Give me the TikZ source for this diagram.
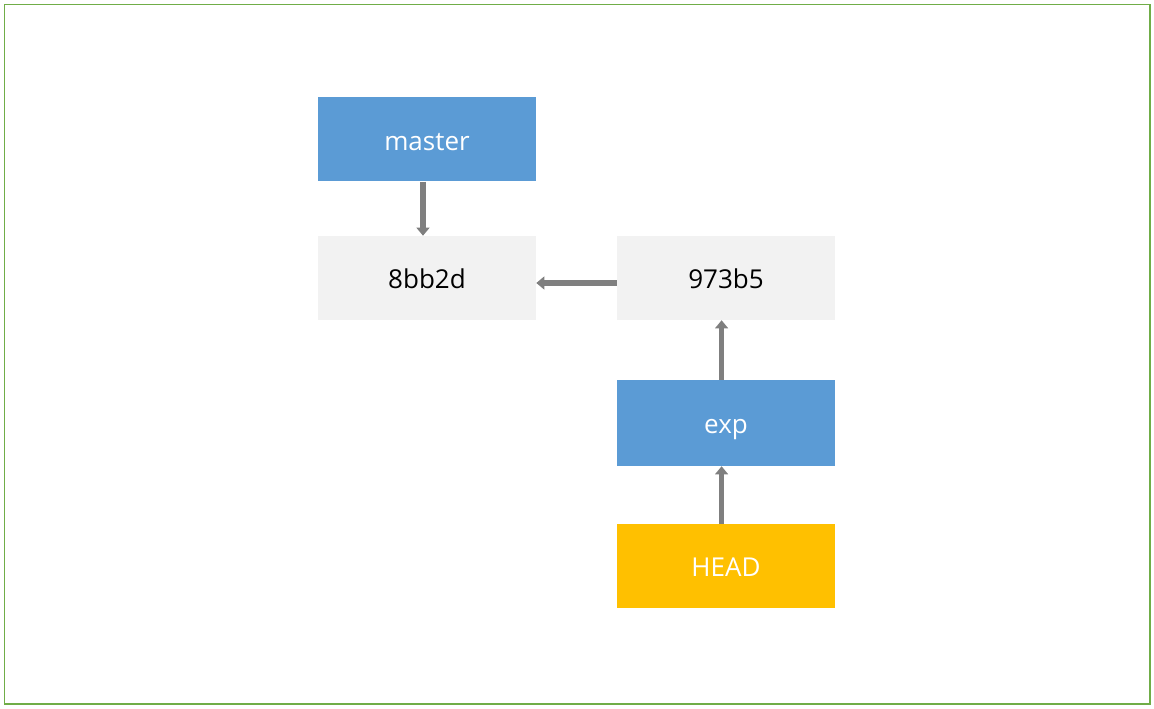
\documentclass[tikz,border=0pt]{standalone}
\usepackage{fontspec}
\setmainfont{Open Sans}
\usetikzlibrary{arrows.meta}
\definecolor{bluebox}{HTML}{5B9BD5}
\definecolor{graybox}{HTML}{F2F2F2}
\definecolor{goldbox}{HTML}{FFC000}
\definecolor{arrowgray}{HTML}{7F7F7F}
\definecolor{framegreen}{HTML}{70AD47}
\tikzset{
  box/.style={rectangle, minimum width=163.5pt, minimum height=63pt, inner sep=0pt,
    text height=15.8pt, text depth=0pt, font=\fontsize{19.5}{22}\selectfont},
  branch/.style={box, fill=bluebox, text=white},
  commit/.style={box, fill=graybox, text=black},
  headbox/.style={box, fill=goldbox, text=white},
  link/.style={draw=arrowgray, line width=4pt, -{Triangle[length=6pt,width=9.5pt]}}
}
\begin{document}
\begin{tikzpicture}[x=0.75pt,y=-0.75pt]
\useasboundingbox (0,0) rectangle (1154,709);
\fill[white] (0,0) rectangle (1154,709);
\draw[framegreen, line width=0.9pt] (4.5,4.5) rectangle (1150,704);
\node[branch] (master) at (427,139.5) {master};
\node[commit] (c1) at (427,278) {8bb2d};
\node[commit] (c2) at (726,278) {973b5};
\node[branch, minimum height=64.5pt] (exp) at (726,423) {exp};
\node[headbox] (head) at (726,566) {HEAD};
\draw[link] ([xshift=-3pt]master.south) -- ([xshift=-3pt]c1.north);
\draw[link] ([yshift=-3.75pt]c2.west) -- ([yshift=-3.75pt]c1.east);
\draw[link] ([xshift=-3.3pt]exp.north) -- ([xshift=-3.3pt]c2.south);
\draw[link] ([xshift=-3.3pt]head.north) -- ([xshift=-3.3pt]exp.south);
\end{tikzpicture}
\end{document}
